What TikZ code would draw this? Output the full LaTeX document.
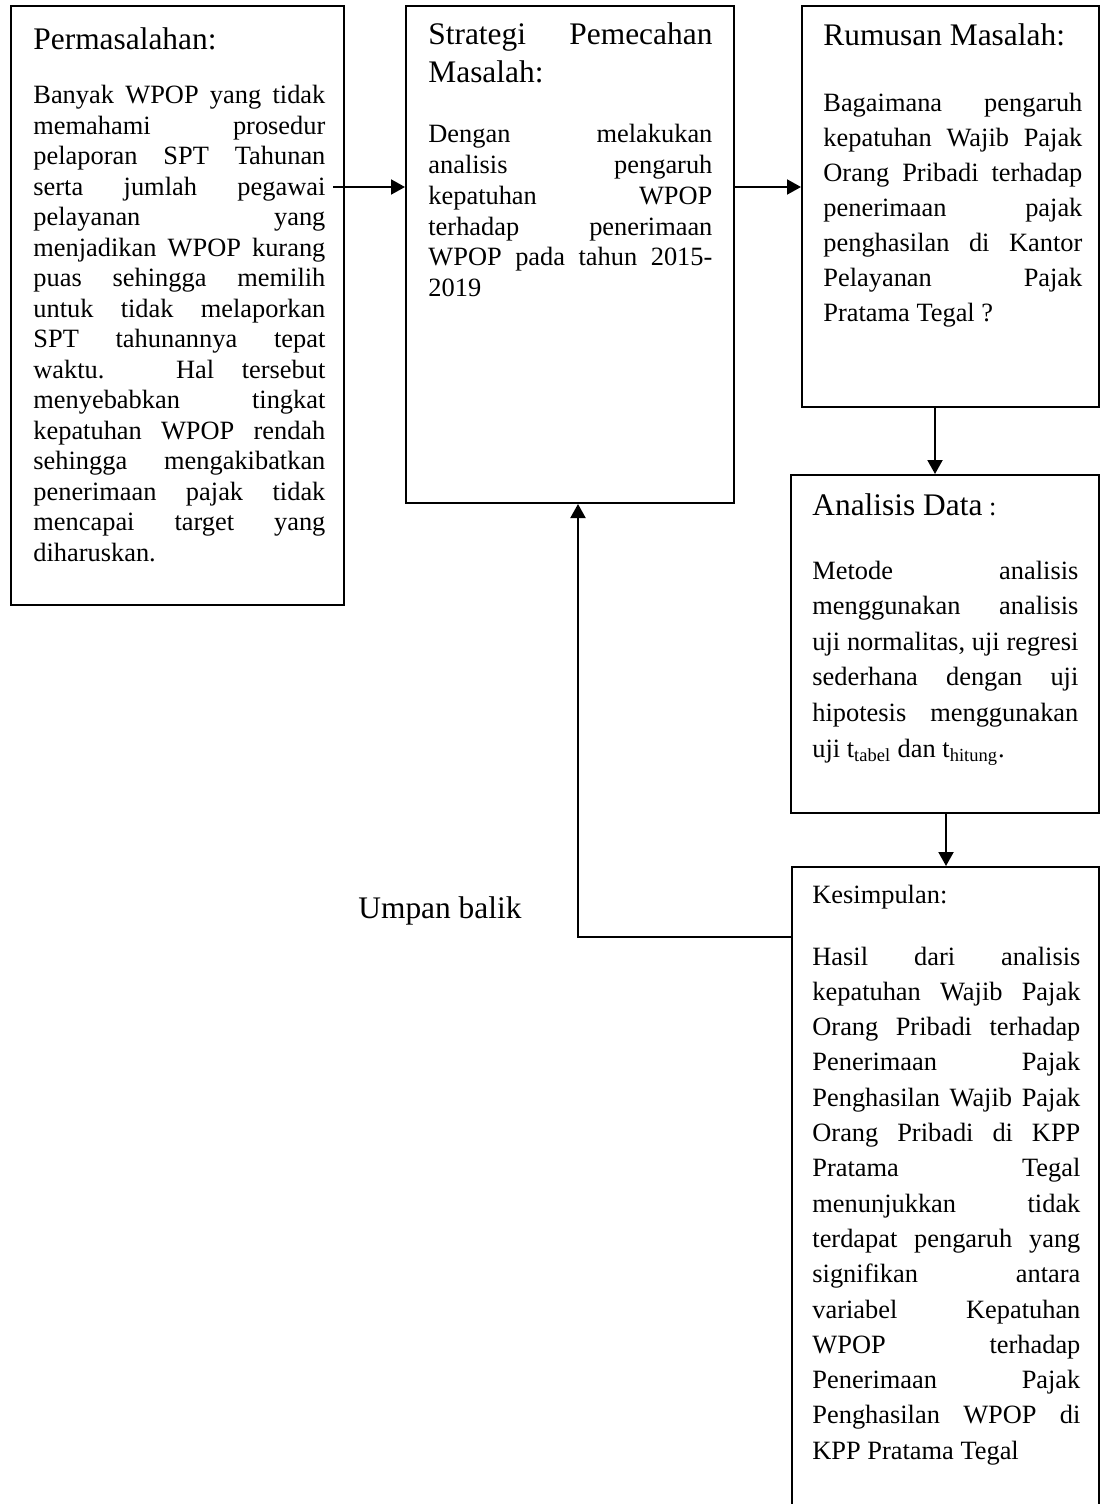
\documentclass[tikz,border=0pt]{standalone}
\usepackage{fontspec}
\setmainfont{Liberation Serif}
\usetikzlibrary{arrows.meta}
\newcommand\jl[1]{\hbox to\hsize{#1}}
\newcommand\rl[1]{\hbox{#1}}
\newcommand\bodyf{\fontsize{13.2pt}{15pt}\selectfont}
\newcommand\hdrf{\fontsize{15.7pt}{18pt}\selectfont}
\newcommand\txtblock[3]{\vtop{\hsize=#1\baselineskip=#2\lineskiplimit=-\maxdimen\lineskip=0pt\relax #3}}
\begin{document}
\begin{tikzpicture}[x=0.5pt,y=-0.5pt,
  box/.style={draw=black,line width=1pt,rectangle,inner sep=0pt},
  txt/.style={anchor=base west,inner sep=0pt,font=\bodyf},
  hdr/.style={anchor=base west,inner sep=0pt,font=\hdrf},
  arr/.style={line width=1pt,-{Triangle[length=7pt,width=7.5pt]}}]
\useasboundingbox (0,0) rectangle (1101,1504);
\fill[white] (0,0) rectangle (1101,1504);
\begin{scope}
\clip (0,0) rectangle (1101,1504);
% boxes
\node[box,minimum width=166.5pt,minimum height=299.5pt] (A) at (177.5,305.5) {};
\node[box,minimum width=164pt,minimum height=248.5pt] (B) at (570,254.5) {};
\node[box,minimum width=148.5pt,minimum height=200.5pt] (C) at (950.5,206.5) {};
\node[box,minimum width=154pt,minimum height=169pt] (D) at (945,644) {};
\node[box,minimum width=153.5pt,minimum height=331.5pt] (E) at (945.5,1198.5) {};
\end{scope}
% box A text
\node[hdr] (hA) at (33,50) {Permasalahan:};
\node[txt] (tA) at (33,104) {\txtblock{146pt}{15.25pt}{%
\jl{Banyak WPOP yang tidak}
\jl{memahami prosedur}
\jl{pelaporan SPT Tahunan}
\jl{serta jumlah pegawai}
\jl{pelayanan yang}
\jl{menjadikan WPOP kurang}
\jl{puas sehingga memilih}
\jl{untuk tidak melaporkan}
\jl{SPT tahunannya tepat}
\jl{waktu. Hal tersebut}
\jl{menyebabkan tingkat}
\jl{kepatuhan WPOP rendah}
\jl{sehingga mengakibatkan}
\jl{penerimaan pajak tidak}
\jl{mencapai target yang}
\rl{diharuskan.}}};
% box B text
\node[hdr] (hB) at (428,45) {\txtblock{142pt}{19pt}{%
\jl{Strategi Pemecahan}
\rl{Masalah:}}};
\node[txt] (tB) at (428,142) {\txtblock{142pt}{15.5pt}{%
\jl{Dengan melakukan}
\jl{analisis pengaruh}
\jl{kepatuhan WPOP}
\jl{terhadap penerimaan}
\jl{WPOP pada tahun 2015-}
\rl{2019}}};
% box C text
\node[hdr] (hC) at (823,46) {Rumusan Masalah:};
\node[txt] (tC) at (823,112) {\txtblock{129.5pt}{17.5pt}{%
\jl{Bagaimana pengaruh}
\jl{kepatuhan Wajib Pajak}
\jl{Orang Pribadi terhadap}
\jl{penerimaan pajak}
\jl{penghasilan di Kantor}
\jl{Pelayanan Pajak}
\rl{Pratama Tegal ?}}};
% box D text
\node[hdr] (hD) at (812,515) {Analisis Data{\bodyf\ :}};
\node[txt] (tD) at (812,579) {\txtblock{133pt}{17.8pt}{%
\jl{Metode analisis}
\jl{menggunakan analisis}
\jl{uji normalitas, uji regresi}
\jl{sederhana dengan uji}
\jl{hipotesis menggunakan}
\rl{uji t\textsubscript{tabel} dan t\textsubscript{hitung}.}}};
% box E text
\node[txt] (hE) at (812,903) {Kesimpulan:};
\node[txt] (tE) at (812,965) {\txtblock{134pt}{17.65pt}{%
\jl{Hasil dari analisis}
\jl{kepatuhan Wajib Pajak}
\jl{Orang Pribadi terhadap}
\jl{Penerimaan Pajak}
\jl{Penghasilan Wajib Pajak}
\jl{Orang Pribadi di KPP}
\jl{Pratama Tegal}
\jl{menunjukkan tidak}
\jl{terdapat pengaruh yang}
\jl{signifikan antara}
\jl{variabel Kepatuhan}
\jl{WPOP terhadap}
\jl{Penerimaan Pajak}
\jl{Penghasilan WPOP di}
\rl{KPP Pratama Tegal}}};
% feedback label
\node[hdr] (ub) at (358,918) {Umpan balik};
% connectors
\coordinate (a1) at (333,187);
\coordinate (c1) at (935,0);
\coordinate (d1) at (946,0);
\coordinate (f1) at (578,937);
\draw[arr] (a1) -- (a1 -| B.west);
\draw[arr] (a1 -| B.east) -- (a1 -| C.west);
\draw[arr] (C.south -| c1) -- (D.north -| c1);
\draw[arr] (D.south -| d1) -- (E.north -| d1);
\draw[arr] (f1 -| E.west) -- (f1) -- (B.south -| f1);
\end{tikzpicture}
\end{document}
